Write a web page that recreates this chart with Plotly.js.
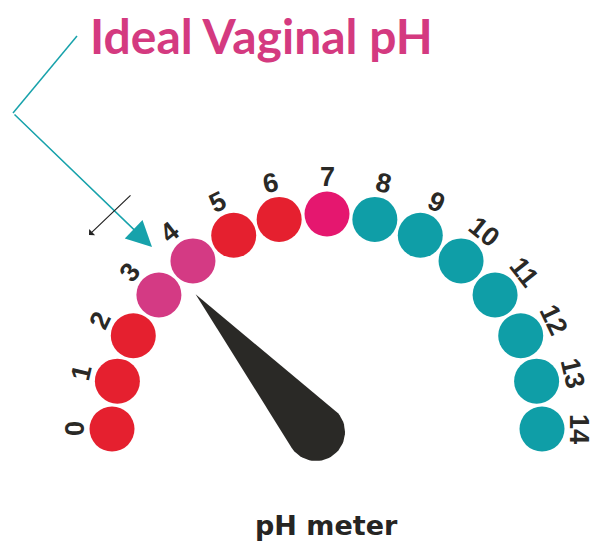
<!DOCTYPE html>
<html><head><meta charset="utf-8">
<script src="https://cdn.plot.ly/plotly-3.0.1.min.js"></script>
<style>html,body{margin:0;padding:0;background:#fff;overflow:hidden}</style>
</head><body><div id="chart" style="width:594px;height:542px"></div>
<script>
// ---- data ----
const phValues = [0,1,2,3,4,5,6,7,8,9,10,11,12,13,14];
const phLabels = ['0','1','2','3','4','5','6','7','8','9','10','11','12','13','14'];
const phColors = ['#e5202f','#e5202f','#e5202f','#d43a84','#d43a84','#e5202f','#e5202f',
                  '#e5176f','#0f9ea7','#0f9ea7','#0f9ea7','#0f9ea7','#0f9ea7','#0f9ea7','#0f9ea7'];
const needleValue = 3.8;
const titleText = 'Ideal Vaginal pH';
const meterText = 'pH meter';

// ---- geometry (pixel-like coordinates) ----
const W = 594, H = 542;
const cx = 327, cy = 429, R = 215, RL = 252;
const phMax = 14;
function ang(v){ return Math.PI * (1 - v / phMax); }
const xs = phValues.map(v => cx + R * Math.cos(ang(v)));
const ys = phValues.map(v => cy - R * Math.sin(ang(v)));

// needle polygon
const px = 316, py = 432, L = 183, rb = 29;
const a = ang(needleValue);
const ux = Math.cos(a), uy = -Math.sin(a);
const tipX = px + L * ux, tipY = py + L * uy;
const theta = Math.atan2(uy, ux);
const phi = Math.acos(rb / L);
const nx = [tipX], ny = [tipY];
const steps = 40;
for (let i = 0; i <= steps; i++) {
  const t = theta + phi + (2 * Math.PI - 2 * phi) * i / steps;
  nx.push(px + rb * Math.cos(t)); ny.push(py + rb * Math.sin(t));
}
nx.push(tipX); ny.push(tipY);

const traces = [
  {x: nx, y: ny, type: 'scatter', mode: 'lines', fill: 'toself',
   fillcolor: '#2a2926', line: {width: 0, color: '#2a2926'}, hoverinfo: 'skip'},
  {x: xs, y: ys, type: 'scatter', mode: 'markers', text: phLabels,
   marker: {size: 45, color: phColors, line: {width: 0}}, hoverinfo: 'text'}
];

const annotations = phValues.map((v, i) => ({
  x: cx + RL * Math.cos(ang(v)), y: cy - RL * Math.sin(ang(v)),
  xref: 'x', yref: 'y', text: phLabels[i], showarrow: false,
  textangle: (v - phMax / 2) * 180 / phMax,
  xanchor: 'center', yanchor: 'middle',
  font: {family: 'Liberation Sans, Arial, sans-serif', size: 27, weight: 700, color: '#2a2926'}
}));

annotations.push({
  x: 261, y: 35, xref: 'x', yref: 'y', text: titleText, showarrow: false,
  xanchor: 'center', yanchor: 'middle',
  font: {family: 'Lato, sans-serif', size: 48, weight: 700, color: '#d43a80'}
});
annotations.push({
  x: 326, y: 525, xref: 'x', yref: 'y', text: meterText, showarrow: false,
  xanchor: 'center', yanchor: 'middle',
  font: {family: 'DejaVu Sans, sans-serif', size: 27, weight: 700, color: '#262523'}
});
// teal pointer arrow
annotations.push({
  x: 152, y: 247, ax: 13, ay: 113, xref: 'x', yref: 'y', axref: 'x', ayref: 'y',
  text: '', showarrow: true, arrowhead: 2, arrowsize: 3.4, arrowwidth: 1.5, arrowcolor: '#17a2ab'
});
// small black arrow
annotations.push({
  x: 89, y: 235, ax: 132, ay: 194, xref: 'x', yref: 'y', axref: 'x', ayref: 'y',
  text: '', showarrow: true, arrowhead: 1, arrowsize: 1.2, arrowwidth: 1.2, arrowcolor: '#222222'
});

const layout = {
  width: W, height: H, margin: {l: 0, r: 0, t: 0, b: 0},
  paper_bgcolor: '#ffffff', plot_bgcolor: '#ffffff', showlegend: false,
  xaxis: {range: [0, W], visible: false, fixedrange: true},
  yaxis: {range: [H, 0], visible: false, fixedrange: true},
  shapes: [{type: 'line', x0: 77, y0: 36, x1: 13, y1: 113, xref: 'x', yref: 'y',
            line: {color: '#17a2ab', width: 1.5}}],
  annotations: annotations
};
Plotly.newPlot('chart', traces, layout, {displayModeBar: false, staticPlot: true});
</script></body></html>
